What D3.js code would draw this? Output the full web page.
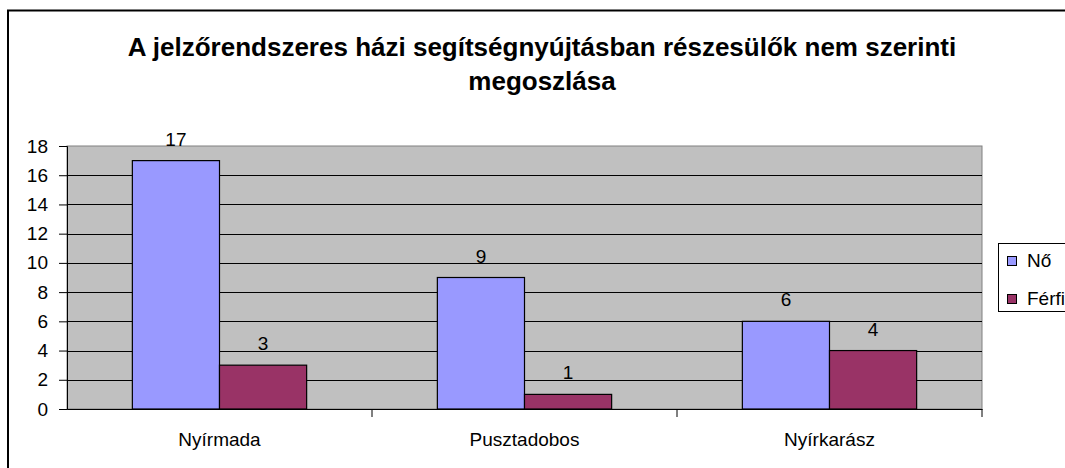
<!DOCTYPE html>
<html>
<head>
<meta charset="utf-8">
<script src="https://cdn.jsdelivr.net/npm/d3@7"></script>
<style>
  body { margin: 0; background: #fff; overflow: hidden; }
  text { font-family: "Liberation Sans", Arial, sans-serif; fill: #000; }
</style>
</head>
<body>
<div id="main"></div>
<script>
const categories = ['Nyírmada', 'Pusztadobos', 'Nyírkarász'];
const seriesNames = ['Nő', 'Férfi'];
const noValues = [17, 9, 6];
const ferfiValues = [3, 1, 4];
const yTicks = [0, 2, 4, 6, 8, 10, 12, 14, 16, 18];
const titleLines = ['A jelzőrendszeres házi segítségnyújtásban részesülők nem szerinti', 'megoszlása'];

const colors = ['#9999FF', '#993366'];
const W = 1065, H = 468;
const plot = { left: 67, right: 982, top: 146, bottom: 409 };
const fs = '19px';

let svg = d3.select('#main')
  .append('svg')
  .attr('width', W)
  .attr('height', H);

// outer chart frame (cut off on the right and bottom)
svg.append('rect')
  .attr('x', 8).attr('y', 10.5)
  .attr('width', 1100).attr('height', 500)
  .attr('fill', 'none').attr('stroke', '#000').attr('stroke-width', 2);

// title
svg.selectAll('text.title')
  .data(titleLines)
  .enter()
  .append('text')
    .attr('class', 'title')
    .attr('x', 542)
    .attr('y', (d, i) => 56 + i * 34)
    .attr('text-anchor', 'middle')
    .style('font-size', '26px')
    .style('font-weight', 'bold')
    .text(d => d);

const x = d3.scaleBand().domain(categories).range([plot.left, plot.right]);
const xs = d3.scaleBand().domain(seriesNames).range([0, x.bandwidth()]).paddingOuter(0.75).paddingInner(0);
const y = d3.scaleLinear().domain([0, 18]).range([plot.bottom, plot.top]);

// plot background
svg.append('rect')
  .attr('x', plot.left).attr('y', plot.top)
  .attr('width', plot.right - plot.left).attr('height', plot.bottom - plot.top)
  .attr('fill', '#C0C0C0')
  .attr('stroke', '#808080');

// gridlines
svg.selectAll('line.grid')
  .data(yTicks.filter(d => d > 0 && d < 18))
  .enter()
  .append('line')
    .attr('class', 'grid')
    .attr('x1', plot.left).attr('x2', plot.right)
    .attr('y1', d => Math.round(y(d)) + 0.5).attr('y2', d => Math.round(y(d)) + 0.5)
    .attr('stroke', '#000');

// bars
const data = [];
categories.forEach((c, i) => {
  data.push({ cat: c, s: 'Nő', v: noValues[i], col: colors[0] });
  data.push({ cat: c, s: 'Férfi', v: ferfiValues[i], col: colors[1] });
});

svg.selectAll('rect.bar')
  .data(data)
  .enter()
  .append('rect')
    .attr('class', 'bar')
    .attr('x', d => x(d.cat) + xs(d.s))
    .attr('y', d => y(d.v))
    .attr('width', xs.bandwidth())
    .attr('height', d => y(0) - y(d.v))
    .attr('fill', d => d.col)
    .attr('stroke', '#000')
    .attr('stroke-width', 1.2);

// value labels
svg.selectAll('text.val')
  .data(data)
  .enter()
  .append('text')
    .attr('class', 'val')
    .attr('x', d => x(d.cat) + xs(d.s) + xs.bandwidth() / 2)
    .attr('y', d => y(d.v) - 15)
    .attr('text-anchor', 'middle')
    .style('font-size', fs)
    .text(d => d.v);

// y axis
const yAxis = svg.append('g')
  .attr('transform', `translate(${plot.left},0)`)
  .call(d3.axisLeft(y).tickValues(yTicks).tickSize(8).tickPadding(11));
yAxis.selectAll('text').style('font-size', fs).attr('fill', '#000');
yAxis.selectAll('line, path').attr('stroke', '#000');

// x axis with ticks at category boundaries
const xAxis = svg.append('g')
  .attr('transform', `translate(0,${plot.bottom})`)
  .call(d3.axisBottom(x).tickSize(0).tickPadding(24));
xAxis.select('.domain').attr('stroke', '#000');
xAxis.selectAll('text').style('font-size', fs).attr('fill', '#000');
xAxis.selectAll('line.sep')
  .data(categories)
  .enter()
  .append('line')
    .attr('class', 'sep')
    .attr('x1', d => x(d) + x.bandwidth()).attr('x2', d => x(d) + x.bandwidth())
    .attr('y1', 0).attr('y2', 8)
    .attr('stroke', '#000');

// legend (runs off the right edge like the original)
const lg = svg.append('g').attr('transform', 'translate(998.5,243.5)');
lg.append('rect')
  .attr('width', 100).attr('height', 68)
  .attr('fill', '#fff').attr('stroke', '#000');
const items = lg.selectAll('g.item')
  .data(seriesNames)
  .enter()
  .append('g')
    .attr('class', 'item')
    .attr('transform', (d, i) => `translate(9,${13 + i * 38})`);
items.append('rect')
  .attr('width', 9).attr('height', 9)
  .attr('fill', (d, i) => colors[i])
  .attr('stroke', '#000');
items.append('text')
  .attr('x', 19.5).attr('y', 10.5)
  .style('font-size', fs)
  .text(d => d);
</script>
</body>
</html>
